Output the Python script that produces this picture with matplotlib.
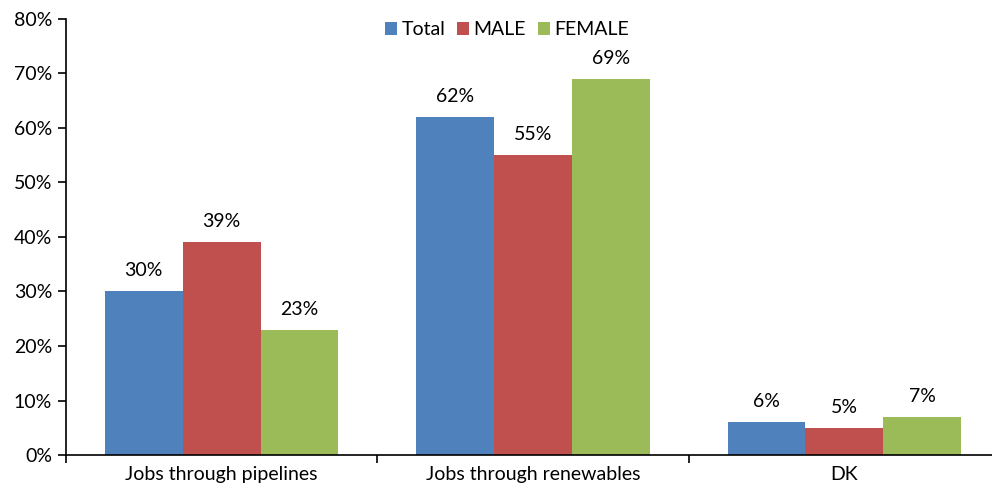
import matplotlib.pyplot as plt
import numpy as np

categories = ['Jobs through pipelines', 'Jobs through renewables', 'DK']
series = ['Total', 'MALE', 'FEMALE']
total = [30, 62, 6]
male = [39, 55, 5]
female = [23, 69, 7]
colors = ['#4F81BD', '#C0504D', '#9BBB59']

plt.rcParams['font.family'] = ['Lato', 'DejaVu Sans']

fig = plt.figure(figsize=(9.92, 4.93), dpi=100)
ax = fig.add_axes([0.0665, 0.077, 0.9415, 0.885])

x = np.arange(len(categories))
w = 0.25
for i, (name, vals) in enumerate(zip(series, [total, male, female])):
    pos = x + (i - 1) * w
    ax.bar(pos, vals, w, color=colors[i], label=name)
    for p, v in zip(pos, vals):
        ax.text(p, v + 2.2, f'{v}%', ha='center', va='bottom', fontsize=14)

ax.set_xlim(-0.5, 2.5)
ax.set_ylim(0, 80)
ax.set_yticks(range(0, 81, 10))
ax.set_yticklabels([f'{t}%' for t in range(0, 81, 10)], fontsize=14)
ax.set_xticks(x)
ax.set_xticklabels(categories, fontsize=14)
ax.set_xticks([-0.5, 0.5, 1.5, 2.5], minor=True)
ax.tick_params(axis='x', which='major', length=0, pad=8)
ax.tick_params(axis='x', which='minor', length=6, width=1.2, color='black')
ax.tick_params(axis='y', length=6, width=1.2, color='black', pad=4)
for s in ['top', 'right']:
    ax.spines[s].set_visible(False)
for s in ['left', 'bottom']:
    ax.spines[s].set_color('black')
    ax.spines[s].set_linewidth(1.2)

ax.legend(loc='upper center', bbox_to_anchor=(0.472, 1.035), ncol=3, frameon=False,
          fontsize=14, handlelength=0.65, handleheight=0.65, handletextpad=0.2,
          columnspacing=0.6)

fig.savefig('out.png', dpi=100)
